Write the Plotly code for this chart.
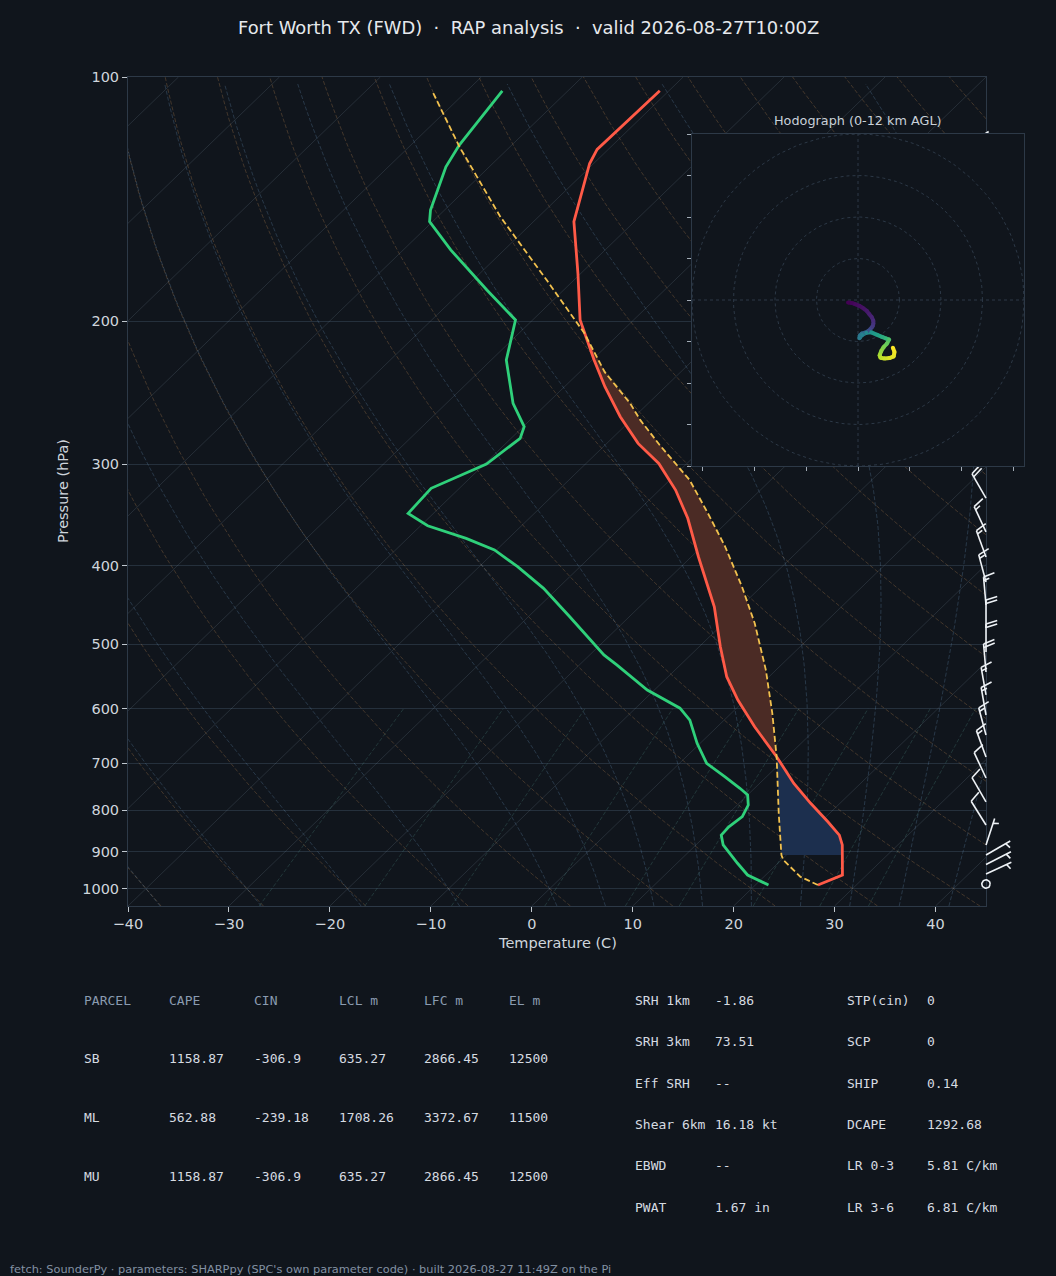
import numpy as np
import plotly.graph_objects as go
from plotly.colors import sample_colorscale

W, H = 1056, 1276
BG = "#10151c"

title_text = "Fort Worth TX (FWD)  ·  RAP analysis  ·  valid 2026-08-27T10:00Z"
footer_text = "fetch: SounderPy · parameters: SHARPpy (SPC's own parameter code) · built 2026-08-27 11:49Z on the Pi"
hodo_title = "Hodograph (0-12 km AGL)"

# ---------------- sounding data ----------------
temp_p = [989.3, 961.6, 883.0, 858.7, 826.9, 784.7, 741.7, 687.5, 631.5, 585.4, 547.9, 503.3,
          449.3, 389.9, 349.6, 322.7, 299.2, 282.7, 262.1, 240.7, 223.2, 209.0, 199.2, 174.5,
          150.7, 127.8, 122.8, 104.0]
temp_c = [26.2, 27.6, 24.5, 23.2, 20.7, 17.1, 13.4, 8.95, 3.7, -0.7, -4.2, -7.9,
          -12.6, -19.3, -24.3, -28.4, -32.8, -36.9, -41.4, -46.0, -49.8, -53.0, -55.3, -60.3,
          -66.0, -70.4, -71.1, -70.9]

dewp_p = [989.3, 961.6, 930.1, 883.0, 858.7, 838.7, 815.0, 788.6, 766.3, 751.9, 727.8, 700.6,
          661.9, 619.7, 599.1, 569.0, 529.9, 515.1, 462.2, 426.5, 401.0, 382.5, 370.1, 357.1,
          344.8, 321.1, 299.8, 278.7, 269.6, 252.3, 223.2, 199.2, 183.0, 163.3, 150.7, 145.8,
          129.0, 121.3, 104.0]
dewp_c = [21.3, 18.2, 16.0, 12.7, 11.5, 11.4, 11.7, 11.1, 10.0, 8.55, 5.9, 2.7,
          -0.3, -3.4, -5.6, -10.7, -16.3, -18.6, -25.9, -31.4, -36.2, -40.2, -44.2, -49.3,
          -52.5, -52.8, -49.8, -49.1, -49.9, -53.4, -58.5, -61.7, -67.6, -75.3, -80.3, -81.4,
          -84.3, -85.2, -86.5]

parcel_p = [989.3, 966.3, 921.5, 908.5, 807.2, 687.5, 607.7, 537.7, 470.9, 424.6, 378.8,
            344.8, 313.6, 284.0, 264.5, 252.3, 231.0, 206.9, 177.9, 148.6, 121.9, 104.7]
parcel_c = [26.2, 23.6, 20.2, 19.5, 14.96, 8.95, 4.06, -1.0, -6.9, -11.9, -17.7,
            -22.8, -28.05, -34.6, -39.1, -41.8, -47.5, -53.5, -62.7, -73.8, -85.0, -93.1]

cin_bottom_p = 908.5
lfc_p = 687.5
el_p = 206.9

# ---------------- wind barbs (direction from, deg; speed kt) ----------------
barb_p = [986.5, 959.0, 933.4, 908.5, 883.2, 834.4, 781.6, 730.3, 688.0, 646.4, 610.8,
          577.1, 540.6, 510.9, 477.3, 447.1, 418.8, 390.2, 363.4, 330.1, 301.5, 280.0,
          260.8, 243.0, 226.5, 211.0, 196.5, 183.0, 170.5, 158.8, 147.9, 137.8, 128.3]
barb_dir = [0, 65, 63, 60, 18, 328, 330, 335, 340, 345, 350,
            350, 355, 0, 0, 355, 345, 340, 335, 330, 330, 330,
            325, 325, 320, 320, 325, 330, 335, 340, 340, 345, 345]
barb_kt = [0, 5, 5, 5, 5, 10, 10, 10, 15, 15, 15,
           15, 20, 20, 20, 15, 15, 15, 15, 20, 20, 25,
           25, 25, 30, 30, 30, 25, 25, 20, 20, 20, 20]

# ---------------- hodograph ----------------
hodo_u = [-2.4, -1.5, -0.7, 0.3, 1.3, 2.1, 2.7, 3.3, 3.7, 3.7, 3.5, 2.5, 1.6, 0.9, 0.4, 0.35,
          1.0, 2.0, 3.2, 4.6, 5.8, 6.8, 7.5, 7.0, 6.2, 5.6, 5.2, 5.4, 6.4, 7.6, 8.6, 8.8, 8.4]
hodo_v = [-0.6, -0.7, -1.0, -1.4, -2.0, -2.6, -3.4, -4.1, -5.0, -5.8, -6.4, -7.5, -7.9, -8.1,
          -8.6, -9.2, -8.4, -7.9, -7.8, -8.4, -8.9, -9.3, -9.5, -10.5, -11.3, -12.3, -13.3,
          -13.9, -14.1, -14.0, -13.6, -12.5, -11.5]
hodo_h = [0, 0.15, 0.3, 0.45, 0.6, 0.8, 1.0, 1.2, 1.45, 1.7, 2.0, 3.0, 3.8, 4.3, 4.7, 5.0,
          5.3, 5.7, 6.2, 6.8, 7.4, 8.0, 8.6, 9.1, 9.6, 10.0, 10.4, 10.8, 11.1, 11.4, 11.6,
          11.8, 12.0]

# ---------------- parameter tables ----------------
tbl_headers = ["PARCEL", "CAPE", "CIN", "LCL m", "LFC m", "EL m"]
tbl_parcel = ["SB", "ML", "MU"]
tbl_cape = ["1158.87", "562.88", "1158.87"]
tbl_cin = ["-306.9", "-239.18", "-306.9"]
tbl_lcl = ["635.27", "1708.26", "635.27"]
tbl_lfc = ["2866.45", "3372.67", "2866.45"]
tbl_el = ["12500", "11500", "12500"]

kin_labels = ["SRH 1km", "SRH 3km", "Eff SRH", "Shear 6km", "EBWD", "PWAT"]
kin_values = ["-1.86", "73.51", "--", "16.18 kt", "--", "1.67 in"]
thermo_labels = ["STP(cin)", "SCP", "SHIP", "DCAPE", "LR 0-3", "LR 3-6"]
thermo_values = ["0", "0", "0.14", "1292.68", "5.81 C/km", "6.81 C/km"]

# ---------------- geometry ----------------
T_MIN, T_MAX = -40.0, 45.0
P_BOT, P_TOP = 1050.0, 100.0
SKEW = T_MAX - T_MIN          # 45 degree skew in axes units
PX_L, PX_R, PX_T, PX_B = 128, 986, 77, 906
K_X = (PX_R - PX_L) / (T_MAX - T_MIN)               # px per deg
K_Y = (PX_B - PX_T) / np.log10(P_BOT / P_TOP)        # px per decade
LOGSPAN = np.log10(P_BOT / P_TOP)


def skew_x(t, p):
    return np.asarray(t, float) + SKEW * np.log10(P_BOT / np.asarray(p, float)) / LOGSPAN


fig = go.Figure()


def add_family(lines, color, dash, width=1.0, axis=("x", "y")):
    xs, ys = [], []
    for x, y in lines:
        xs += list(x) + [None]
        ys += list(y) + [None]
    fig.add_trace(go.Scatter(x=xs, y=ys, mode="lines",
                             line=dict(color=color, width=width, dash=dash),
                             hoverinfo="skip", showlegend=False,
                             xaxis=axis[0], yaxis=axis[1]))


# isotherms
iso = []
for t in range(-120, 50, 10):
    iso.append(([skew_x(t, P_BOT), skew_x(t, P_TOP)], [P_BOT, P_TOP]))
add_family(iso, "rgba(150,170,190,0.17)", "solid", 1.0)

# dry adiabats
Rd, Cp, Lv, EPS = 287.04749, 1004.6662, 2.50084e6, 0.6219569
KAP = Rd / Cp
pd = np.geomspace(P_BOT, P_TOP, 80)
dry = []
for t0 in np.arange(-40, 246, 10):
    T = (t0 + 273.15) * (pd / 1000.0) ** KAP - 273.15
    dry.append((skew_x(T, pd), pd))
add_family(dry, "rgba(205,145,85,0.27)", "4px,2px", 1.0)


# moist adiabats
def dtdp(p, T):
    es = 6.112 * np.exp(17.67 * (T - 273.15) / (T - 29.65))
    rs = EPS * es / (p - es)
    return (Rd * T + Lv * rs) / (Cp + Lv * Lv * rs * EPS / (Rd * T * T)) / p


def integrate(T0, ps):
    out = [T0.copy()]
    T = T0.copy()
    for i in range(len(ps) - 1):
        p = ps[i]
        h = ps[i + 1] - ps[i]
        k1 = dtdp(p, T)
        k2 = dtdp(p + h / 2, T + h / 2 * k1)
        k3 = dtdp(p + h / 2, T + h / 2 * k2)
        k4 = dtdp(p + h, T + h * k3)
        T = T + h / 6 * (k1 + 2 * k2 + 2 * k3 + k4)
        out.append(T.copy())
    return np.array(out)


t0m = np.concatenate((np.arange(-40, 0, 10), np.arange(0, 46, 5))).astype(float) + 273.15
p_up = np.linspace(1000, 100, 451)
p_dn = np.linspace(1000, 1050, 26)
T_up = integrate(t0m, p_up)
T_dn = integrate(t0m, p_dn)
p_all = np.concatenate((p_dn[::-1], p_up[1:]))
T_all = np.concatenate((T_dn[::-1], T_up[1:])) - 273.15
moist = []
for j in range(len(t0m)):
    moist.append((skew_x(T_all[::3, j], p_all[::3]), p_all[::3]))
add_family(moist, "rgba(110,160,205,0.25)", "4px,2px", 1.0)

# mixing ratio lines
pm = np.linspace(P_BOT, 600, 40)
mix = []
for w in [0.0004, 0.001, 0.002, 0.004, 0.007, 0.01, 0.016, 0.024, 0.032]:
    e = pm * w / (EPS + w)
    le = np.log(e / 6.112)
    td = 243.5 * le / (17.67 - le)
    mix.append((skew_x(td, pm), pm))
add_family(mix, "rgba(95,175,160,0.22)", "4px,2px", 1.0)


# CAPE / CIN shading
def interp_t(parr, tarr, pg):
    lp = np.log(np.asarray(parr, float))[::-1]
    return np.interp(np.log(pg), lp, np.asarray(tarr, float)[::-1])


def shade(p_lo, p_hi, color):
    pg = np.geomspace(p_hi, p_lo, 80)
    tp = interp_t(parcel_p, parcel_c, pg)
    te = interp_t(temp_p, temp_c, pg)
    xs = np.concatenate((skew_x(tp, pg), skew_x(te, pg)[::-1]))
    ys = np.concatenate((pg, pg[::-1]))
    fig.add_trace(go.Scatter(x=xs, y=ys, mode="lines", fill="toself", fillcolor=color,
                             line=dict(width=0, color=color), hoverinfo="skip",
                             showlegend=False, xaxis="x", yaxis="y"))


shade(lfc_p, cin_bottom_p, "#1c2f4e")
shade(el_p, lfc_p, "#4b2b25")

# profiles
fig.add_trace(go.Scatter(x=skew_x(temp_c, temp_p), y=temp_p, mode="lines",
                         line=dict(color="#ff5a47", width=2.8), hoverinfo="skip",
                         showlegend=False, xaxis="x", yaxis="y"))
fig.add_trace(go.Scatter(x=skew_x(dewp_c, dewp_p), y=dewp_p, mode="lines",
                         line=dict(color="#2fd07a", width=2.8), hoverinfo="skip",
                         showlegend=False, xaxis="x", yaxis="y"))
fig.add_trace(go.Scatter(x=skew_x(parcel_c, parcel_p), y=parcel_p, mode="lines",
                         line=dict(color="#f2c14e", width=1.8, dash="6px,3px"),
                         hoverinfo="skip", showlegend=False, xaxis="x", yaxis="y"))

# ---------------- wind barbs (overlay axes x2/y2, same scales extended to the page) ----------------
BARB_LEN = 28.0


def barb_polylines(spd, direction):
    L = BARB_LEN
    spacing, fh, fw = 0.125 * L, 0.4 * L, 0.25 * L
    s = 5 * int(round(spd / 5.0))
    if s == 0:
        t = np.linspace(0, 2 * np.pi, 37)
        return [(0.15 * L * np.cos(t), 0.15 * L * np.sin(t))]
    nflag, rem = divmod(s, 50)
    nbarb, rem = divmod(rem, 10)
    half = rem >= 5
    lines = [([0.0, 0.0], [0.0, L])]
    off = L
    for _ in range(nflag):
        lines.append(([0, fh, 0], [off, off - fw / 2, off - fw]))
        off -= fw + spacing
    for _ in range(nbarb):
        lines.append(([0, fh], [off, off + fw / 2]))
        off -= spacing
    if half:
        if off == L:
            off -= 1.5 * spacing
        lines.append(([0, fh / 2], [off, off + fw / 4]))
    u = -s * np.sin(np.radians(direction))
    v = -s * np.cos(np.radians(direction))
    ang = np.arctan2(v, u) + np.pi / 2
    c, sn = np.cos(ang), np.sin(ang)
    out = []
    for xs, ys in lines:
        xs = np.array(xs, float)
        ys = np.array(ys, float)
        out.append((c * xs - sn * ys, sn * xs + c * ys))
    return out


barb_lines = []
for p0, d0, s0 in zip(barb_p, barb_dir, barb_kt):
    for dx, dy in barb_polylines(s0, d0):
        bx = T_MAX + dx / K_X
        by = 10 ** (np.log10(p0) - dy / K_Y)
        barb_lines.append((bx, by))
add_family(barb_lines, "#eef2f6", "solid", 1.6, axis=("x2", "y2"))

# ---------------- hodograph (x3/y3) ----------------
R = 40
fig.add_trace(go.Scatter(x=[-R, R, R, -R, -R], y=[-R, -R, R, R, -R], mode="lines",
                         fill="toself", fillcolor=BG, line=dict(width=0, color=BG),
                         hoverinfo="skip", showlegend=False, xaxis="x3", yaxis="y3"))
th = np.linspace(0, 2 * np.pi, 181)
rings = [(r * np.cos(th), r * np.sin(th)) for r in (10, 20, 30, 40)]
rings += [([-R, R], [0, 0]), ([0, 0], [-R, R])]
add_family(rings, "#2c3846", "3px,3px", 1.0, axis=("x3", "y3"))

cols = sample_colorscale("Viridis", [h / 12.0 for h in hodo_h])
for i in range(len(hodo_u) - 1):
    cmid = sample_colorscale("Viridis", [(hodo_h[i] + hodo_h[i + 1]) / 24.0])[0]
    fig.add_trace(go.Scatter(x=[hodo_u[i], hodo_u[i + 1]], y=[hodo_v[i], hodo_v[i + 1]],
                             mode="lines", line=dict(color=cmid, width=4),
                             hoverinfo="skip", showlegend=False, xaxis="x3", yaxis="y3"))
fig.add_trace(go.Scatter(x=hodo_u, y=hodo_v, mode="markers",
                         marker=dict(color=cols, size=4, line=dict(width=0)),
                         hoverinfo="skip", showlegend=False, xaxis="x3", yaxis="y3"))

# ---------------- annotations ----------------
ann = []
PAD = 2  # plotly annotation inner padding


def txt(x, y, s, size, color, family="DejaVu Sans", xanchor="left", angle=0):
    if xanchor == "left":
        x = x - PAD
    ann.append(dict(x=x / W, y=1 - y / H, xref="paper", yref="paper", text=s,
                    showarrow=False, xanchor=xanchor, yanchor="middle", textangle=angle,
                    font=dict(family=family, size=size, color=color)))


txt(528, 27, title_text, 17.9, "#e6e9ed", xanchor="center")
txt(557, 943, "Temperature (C)", 14.5, "#cfd5dc", xanchor="center")
txt(63, 491, "Pressure (hPa)", 14.5, "#cfd5dc", xanchor="center", angle=-90)
txt(858, 120, hodo_title, 12.8, "#c9d1d9", xanchor="center")

MONO = "DejaVu Sans Mono"
col_x = [84, 169, 254, 339, 424, 509]
for cx, hd in zip(col_x, tbl_headers):
    txt(cx, 1000, hd, 13, "#8a9bb0", MONO)
row_y = [1058, 1117, 1176]
for i, ry in enumerate(row_y):
    vals = [tbl_parcel[i], tbl_cape[i], tbl_cin[i], tbl_lcl[i], tbl_lfc[i], tbl_el[i]]
    for cx, vv in zip(col_x, vals):
        txt(cx, ry, vv, 13, "#d6dbe1", MONO)

r_y = [1000, 1041.5, 1083, 1124.3, 1165.7, 1207.3]
for i, ry in enumerate(r_y):
    txt(635, ry, kin_labels[i], 13, "#d6dbe1", MONO)
    txt(715, ry, kin_values[i], 13, "#d6dbe1", MONO)
    txt(847, ry, thermo_labels[i], 13, "#d6dbe1", MONO)
    txt(927, ry, thermo_values[i], 13, "#d6dbe1", MONO)

txt(10, 1269, footer_text, 11.35, "#8391a3")

# ---------------- layout ----------------
SPINE = "#2d3947"
TICKC = "#c0c7ce"
tickfont = dict(family="DejaVu Sans", size=14.5, color="#cfd5dc")
xticks = list(range(-40, 41, 10))
yticks = [100, 200, 300, 400, 500, 600, 700, 800, 900, 1000]

fig.update_layout(
    template="none",
    width=W, height=H, autosize=False,
    margin=dict(l=0, r=0, t=0, b=0, pad=0),
    paper_bgcolor=BG, plot_bgcolor="rgba(0,0,0,0)",
    font=dict(family="DejaVu Sans", color="#cfd5dc"),
    showlegend=False,
    annotations=ann,
    xaxis=dict(domain=[PX_L / W, PX_R / W], range=[T_MIN, T_MAX], anchor="y",
               tickmode="array", tickvals=xticks,
               ticktext=[("\u2212" + str(-t)) if t < 0 else str(t) for t in xticks],
               ticks="outside", ticklen=5, tickwidth=1, tickcolor=TICKC,
               showline=True, linecolor=SPINE, linewidth=1, mirror=True,
               showgrid=False, zeroline=False, tickfont=tickfont, automargin=False,
               fixedrange=True),
    yaxis=dict(domain=[(H - PX_B) / H, (H - PX_T) / H], type="log",
               range=[np.log10(P_BOT), np.log10(P_TOP)], anchor="x",
               tickmode="array", tickvals=yticks, ticktext=[str(t) for t in yticks],
               ticks="outside", ticklen=5, tickwidth=1, tickcolor=TICKC,
               showline=True, linecolor=SPINE, linewidth=1, mirror=True,
               showgrid=True, gridcolor="#25303c", gridwidth=1, zeroline=False,
               tickfont=tickfont, automargin=False, fixedrange=True),
    xaxis2=dict(domain=[0, 1], anchor="y2",
                range=[T_MIN - PX_L / K_X, T_MAX + (W - PX_R) / K_X],
                visible=False, fixedrange=True),
    yaxis2=dict(domain=[0, 1], anchor="x2", type="log",
                range=[np.log10(P_BOT) + (H - PX_B) / K_Y, np.log10(P_TOP) - PX_T / K_Y],
                visible=False, fixedrange=True),
    xaxis3=dict(domain=[692 / W, 1024 / W], anchor="y3", range=[-R, R],
                tickmode="array", tickvals=[-37.5, -25, -12.5, 0, 12.5, 25, 37.5],
                showticklabels=False, ticks="outside", ticklen=4, tickcolor="#a3acb6",
                showline=True, linecolor=SPINE, linewidth=1, mirror=True,
                showgrid=False, zeroline=False, automargin=False, fixedrange=True),
    yaxis3=dict(domain=[(H - 466) / H, (H - 134) / H], anchor="x3", range=[-R, R],
                tickmode="array", tickvals=list(range(-40, 41, 10)),
                showticklabels=False, ticks="outside", ticklen=4, tickcolor="#a3acb6",
                showline=True, linecolor=SPINE, linewidth=1, mirror=True,
                showgrid=False, zeroline=False, automargin=False, fixedrange=True),
)

fig.write_html("out.html", config={"displayModeBar": False},
               post_script="document.body.style.margin='0';")
